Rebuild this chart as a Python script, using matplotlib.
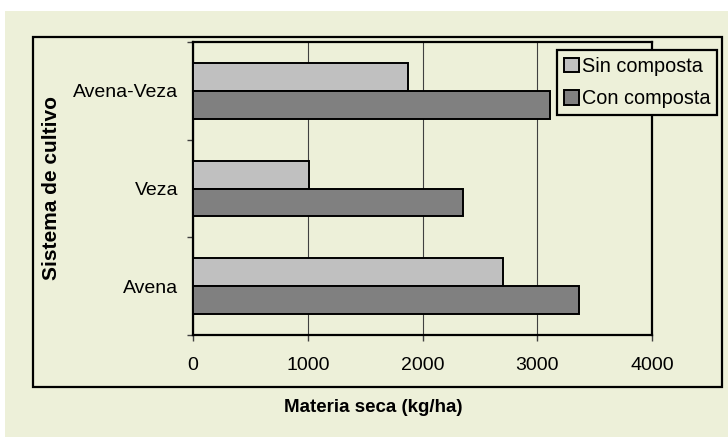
import numpy as np
import matplotlib
matplotlib.use('Agg')
import matplotlib.pyplot as plt
from matplotlib.patches import Rectangle

# data
sistemas = ['Avena', 'Veza', 'Avena-Veza']
sin_composta = [2700, 1010, 1870]
con_composta = [3360, 2350, 3110]
x_ticks = [0, 1000, 2000, 3000, 4000]

bg = '#EDF0D9'
plt.rcParams['font.family'] = ['Liberation Sans', 'DejaVu Sans']

fig = plt.figure(figsize=(7.28, 4.38), dpi=100, facecolor='white')

# green panel and the black outer frame
fig.patches.append(Rectangle((5 / 728, 1 / 438), 723 / 728, 426 / 438,
                             transform=fig.transFigure, facecolor=bg,
                             edgecolor='none', zorder=-2))
fig.patches.append(Rectangle((33 / 728, 1 - 387 / 438), 689 / 728, 350 / 438,
                             transform=fig.transFigure, facecolor='none',
                             edgecolor='black', linewidth=1.6, zorder=-1))

ax = fig.add_axes([193 / 728, 1 - 335 / 438, 459 / 728, 293 / 438])
ax.set_facecolor('none')
ax.set_zorder(2)

y = np.arange(len(sistemas))
h = 0.286
ax.barh(y + h / 2, sin_composta, height=h, color='#C0C0C0',
        edgecolor='black', linewidth=1.4, label='Sin composta', zorder=3)
ax.barh(y - h / 2, con_composta, height=h, color='#808080',
        edgecolor='black', linewidth=1.4, label='Con composta', zorder=3)

ax.set_xlim(0, 4000)
ax.set_ylim(-0.5, 2.5)
ax.set_xticks(x_ticks)
ax.set_xticklabels([str(v) for v in x_ticks], fontsize=14)
ax.set_yticks(y)
ax.set_yticklabels(sistemas, fontsize=14)
ax.set_yticks([-0.5, 0.5, 1.5, 2.5], minor=True)
ax.tick_params(axis='y', which='major', length=0, pad=10.5)
ax.tick_params(axis='y', which='minor', length=4, width=1, color='#404040')
ax.tick_params(axis='x', length=4, width=1, color='#404040', pad=12)

ax.xaxis.grid(True, color='#404040', linewidth=0.8, zorder=0)
ax.set_axisbelow(True)
for s in ax.spines.values():
    s.set_linewidth(1.6)
    s.set_color('black')

fig.text(373.7 / 728, 1 - 408 / 438, 'Materia seca (kg/ha)', fontsize=13.5,
         fontweight='bold', ha='center', va='center')
fig.text(52 / 728, 1 - 187.5 / 438, 'Sistema de cultivo', fontsize=15,
         fontweight='bold', ha='center', va='center', rotation=90)

leg = fig.legend(loc='upper left', bbox_to_anchor=(556.7 / 728, 1 - 50 / 438),
                 fontsize=14.3, frameon=True, fancybox=False, facecolor=bg,
                 edgecolor='black', framealpha=1, handlelength=0.75,
                 handleheight=0.75, handletextpad=0.15, borderpad=0.35,
                 labelspacing=0.68, borderaxespad=0)
leg.get_frame().set_linewidth(1.6)
leg.set_zorder(5)

plt.savefig('out.png', dpi=100, facecolor='white')
